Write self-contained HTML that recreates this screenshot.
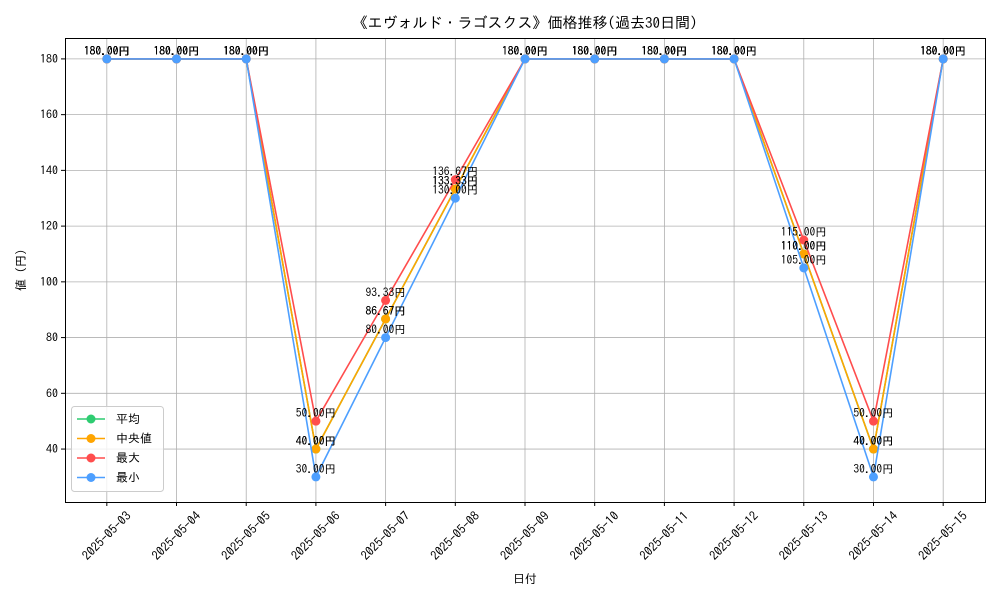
<!DOCTYPE html>
<html><head><meta charset="utf-8"><style>
html,body{margin:0;padding:0;background:#fff}
svg text{font-family:"IPAGothic","Liberation Sans","Noto Sans CJK JP",sans-serif;fill:#000}
</style></head><body>
<svg id="chart" width="1000" height="600" xmlns="http://www.w3.org/2000/svg">
<rect x="0" y="0" width="1000" height="600" fill="#fff"/>
<text x="525" y="28" font-size="15" text-anchor="middle">《エヴォルド・ラゴスクス》価格推移(過去30日間)</text>
<g id="grid"></g>
<g id="axes"></g>
<g id="series"></g>
<rect x="65.5" y="38.5" width="920" height="464" fill="none" stroke="#000" stroke-width="1"/>
<text x="525" y="583" font-size="12" text-anchor="middle">日付</text>
<text x="25" y="270" font-size="12" text-anchor="middle" transform="rotate(-90 25 270)">値 (円)</text>
<g id="legend"></g>
</svg>
<script>
const categories = ["2025-05-03","2025-05-04","2025-05-05","2025-05-06","2025-05-07","2025-05-08","2025-05-09","2025-05-10","2025-05-11","2025-05-12","2025-05-13","2025-05-14","2025-05-15"];
const avgValues = [180,180,180,40,86.67,133.33,180,180,180,180,110,40,180];
const medianValues = [180,180,180,40,86.67,133.33,180,180,180,180,110,40,180];
const maxValues = [180,180,180,50,93.33,136.67,180,180,180,180,115,50,180];
const minValues = [180,180,180,30,80,130,180,180,180,180,105,30,180];
const yTicks = [40,60,80,100,120,140,160,180];
const seriesNames = ["平均","中央値","最大","最小"];

const NS="http://www.w3.org/2000/svg";
const L=65,R=985,T=38,B=502;
const yMin=21,yMax=187.5;
const n=categories.length;
function xs(i){return L+(i+0.6)*(R-L)/(n-1+1.2);}
function ys(v){return B-(v-yMin)/(yMax-yMin)*(B-T);}
function mk(tag,attrs,parent){const e=document.createElementNS(NS,tag);for(const k in attrs)e.setAttribute(k,attrs[k]);parent.appendChild(e);return e;}
const grid=document.getElementById('grid'),axes=document.getElementById('axes'),ser=document.getElementById('series'),leg=document.getElementById('legend');
yTicks.forEach(v=>{
  const y=ys(v);
  const g=mk('line',{x1:L,x2:R,y1:y,y2:y,stroke:'#b0b0b0','stroke-width':0.8},grid);
  
  
  mk('line',{x1:L-4,x2:L,y1:y,y2:y,stroke:'#000'},axes);
  const t=mk('text',{x:L-7,y:y+4,'font-size':12,'text-anchor':'end'},axes);
  t.textContent=v;
  
  
});
categories.forEach((c,i)=>{
  const x=xs(i);
  const g=mk('line',{x1:x,x2:x,y1:T,y2:B,stroke:'#b0b0b0','stroke-width':0.8},grid);
  
  
  mk('line',{x1:x,x2:x,y1:B,y2:B+4,stroke:'#000'},axes);
  const cy=536;
  const t=mk('text',{x:x,y:cy+4,'font-size':12.5,'text-anchor':'middle',transform:`rotate(-45 ${x} ${cy})`},axes);
  t.textContent=c;
  
  
});
const allSeries=[avgValues,medianValues,maxValues,minValues];
const colors=["#2ecc71","#ffa500","#ff4d4d","#4d9fff"];
const keys=["avg","median","max","min"];
allSeries.forEach((vals,s)=>{
  const pts=vals.map((v,i)=>xs(i)+','+ys(v)).join(' ');
  const pl=mk('polyline',{points:pts,fill:'none',stroke:colors[s],'stroke-width':1.6},ser);
  
  
  vals.forEach((v,i)=>{
    const c=mk('circle',{cx:xs(i),cy:ys(v),r:4.5,fill:colors[s]},ser);
    
    
  });
});
allSeries.forEach((vals,s)=>{
  vals.forEach((v,i)=>{
    const t=mk('text',{x:xs(i),y:ys(v)-4,'font-size':11.5,'text-anchor':'middle'},ser);
    t.textContent=v.toFixed(2)+'円';
    
    
  });
});
const lb=mk('rect',{x:71.5,y:406.5,width:92,height:85,rx:3,fill:'#fff','fill-opacity':0.8,stroke:'#ccc'},leg);


seriesNames.forEach((nm,s)=>{
  const y=419+s*19.5;
  const g=mk('g',{},leg);
  
  
  mk('line',{x1:77,x2:105,y1:y,y2:y,stroke:colors[s],'stroke-width':1.6},g);
  mk('circle',{cx:91,cy:y,r:4.5,fill:colors[s]},g);
  const t=mk('text',{x:116,y:y+4,'font-size':12},g);
  t.textContent=nm;
});
</script>
</body></html>
